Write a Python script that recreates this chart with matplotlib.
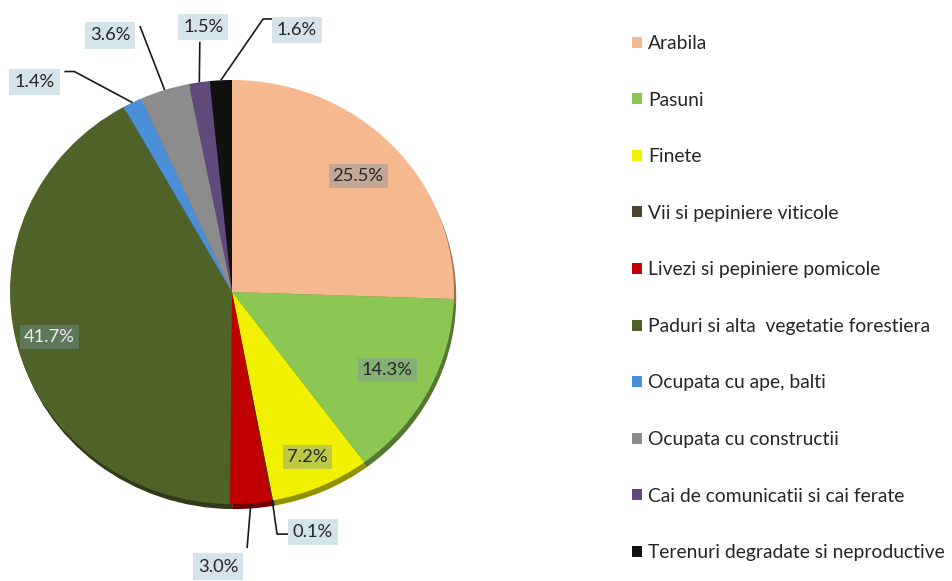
import matplotlib
matplotlib.use("Agg")
import matplotlib.pyplot as plt
from matplotlib.patches import Patch
import numpy as np
import matplotlib.colors as mcolors

categories = ["Arabila", "Pasuni", "Finete", "Vii si pepiniere viticole",
              "Livezi si pepiniere pomicole", "Paduri si alta  vegetatie forestiera",
              "Ocupata cu ape, balti", "Ocupata cu constructii",
              "Cai de comunicatii si cai ferate", "Terenuri degradate si neproductive"]
values = [25.5, 14.3, 7.2, 0.1, 3.0, 41.7, 1.4, 3.6, 1.5, 1.6]
labels = ["25.5%", "14.3%", "7.2%", "0.1%", "3.0%", "41.7%", "1.4%", "3.6%", "1.5%", "1.6%"]

colors = ["#F6B88F", "#8DC753", "#F0F000", "#4A4431", "#C00000",
          "#4F6228", "#4A8FD8", "#8C8C8C", "#604A7B", "#111111"]

# layout: inside labels (radius fraction) and outside labels (box center, elbow point) in axes data units
inside_r = {0: 0.79, 1: 0.79, 2: 0.85, 5: 0.85}
inside_txt = {0: '#262626', 1: '#262626', 2: '#262626', 5: '#ececec'}
outside = {
    6: dict(box=(-0.89, 0.99), elbow=(-0.71, 1.04), end=(-0.755, 1.04)),
    7: dict(box=(-0.55, 1.21), elbow=(-0.415, 1.255), end=(-0.415, 1.255)),
    8: dict(box=(-0.13, 1.25), elbow=(-0.145, 1.18), end=(-0.145, 1.18)),
    9: dict(box=(0.293, 1.236), elbow=(0.14, 1.288), end=(0.185, 1.288)),
    3: dict(box=(0.365, -1.132), elbow=(0.203, -1.142), end=(0.255, -1.142)),
    4: dict(box=(-0.063, -1.295), elbow=(0.068, -1.208), end=(0.068, -1.208)),
}

plt.rcParams['font.family'] = ['Lato', 'DejaVu Sans']
FS = 13.2
LFS = 13.9

W, H = 952, 581
fig = plt.figure(figsize=(W / 100, H / 100), dpi=100)
cx, cy, rx, ry = 232, 292, 222, 212
ax = fig.add_axes([(cx - rx) / W, (H - cy - ry) / H, 2 * rx / W, 2 * ry / H])

def darker(c, f=0.6):
    r, g, b = mcolors.to_rgb(c)
    return (r * f, g * f, b * f)

# 3D rim shadow
ax.pie(values, colors=[darker(c) for c in colors], startangle=90, counterclock=False,
       center=(0.01, -0.024), radius=1.0, wedgeprops=dict(linewidth=0))
wedges, _ = ax.pie(values, colors=colors, startangle=90, counterclock=False,
                   radius=1.0, wedgeprops=dict(linewidth=0))
ax.set_aspect('auto')
ax.set_xlim(-1, 1)
ax.set_ylim(-1, 1)
ax.axis('off')

total = sum(values)
cum = np.cumsum([0] + values[:-1])
for i, (v, lab) in enumerate(zip(values, labels)):
    mid = 90 - (cum[i] + v / 2) / total * 360
    ca, sa = np.cos(np.radians(mid)), np.sin(np.radians(mid))
    if i in inside_r:
        r = inside_r[i]
        ax.text(r * ca, r * sa, lab, ha='center', va='center', fontsize=FS, color=inside_txt[i],
                bbox=dict(boxstyle='square,pad=0.22', fc='#7892a3', ec='none', alpha=0.42))
    elif i in outside:
        o = outside[i]
        xs = [ca * 1.0, o['elbow'][0], o['end'][0]]
        ys = [sa * 1.0, o['elbow'][1], o['end'][1]]
        ax.plot(xs, ys, color='#1a1a1a', lw=1.2, clip_on=False, solid_capstyle='butt')
        ax.text(o['box'][0], o['box'][1], lab, ha='center', va='center', fontsize=FS,
                color='#262626', clip_on=False,
                bbox=dict(boxstyle='square,pad=0.28', fc='#D5E3EB', ec='none'))

handles = [Patch(facecolor=c, edgecolor='none') for c in colors]
leg = fig.legend(handles, categories, loc='upper left', bbox_to_anchor=(632 / W, 1 - 35 / H),
                 frameon=False, fontsize=LFS, handlelength=0.52, handleheight=0.5,
                 handletextpad=0.3, labelspacing=2.05, borderaxespad=0, borderpad=0)
for t in leg.get_texts():
    t.set_color('#262626')

fig.savefig("out.png", dpi=100, facecolor='white')
